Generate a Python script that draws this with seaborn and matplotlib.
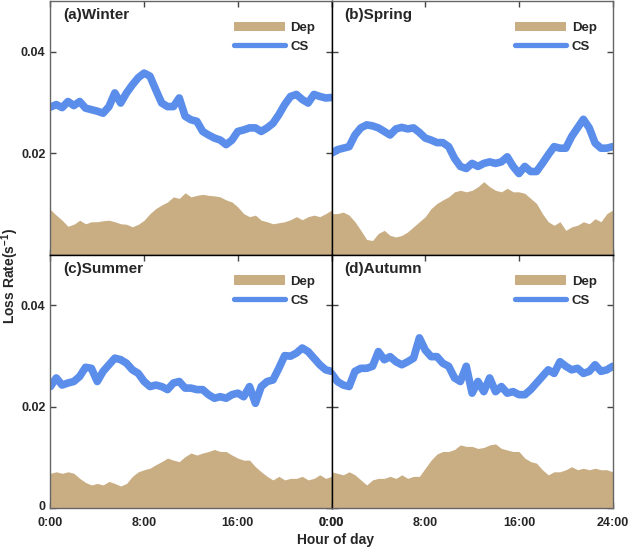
import numpy as np
import pandas as pd
import matplotlib
matplotlib.use("Agg")
import matplotlib.pyplot as plt
import matplotlib.transforms as mtransforms
import seaborn as sns
from matplotlib.patches import Patch
from matplotlib.lines import Line2D

sns.set_style("ticks")
plt.rcParams['font.family'] = ['Liberation Sans', 'DejaVu Sans']
plt.rcParams['font.weight'] = 'bold'
plt.rcParams['mathtext.fontset'] = 'custom'
plt.rcParams['mathtext.bf'] = 'Liberation Sans:bold'
plt.rcParams['mathtext.rm'] = 'Liberation Sans:bold'
plt.rcParams['mathtext.default'] = 'bf'

# half-hourly values, 0:00 .. 24:00
hours = np.arange(0, 24.5, 0.5)

winter_cs = [0.0291, 0.0296, 0.0290, 0.0302, 0.0294, 0.0302, 0.0289, 0.0286, 0.0283, 0.0279,
             0.0292, 0.0319, 0.0299, 0.0319, 0.0335, 0.0349, 0.0358, 0.0352, 0.0325, 0.0299,
             0.0292, 0.0292, 0.0309, 0.0273, 0.0266, 0.0263, 0.0243, 0.0236, 0.0230, 0.0226,
             0.0217, 0.0226, 0.0243, 0.0246, 0.0250, 0.0250, 0.0243, 0.0250, 0.0259, 0.0276,
             0.0296, 0.0312, 0.0316, 0.0306, 0.0299, 0.0316, 0.0312, 0.0309, 0.0310]
winter_dep = [0.0089, 0.0078, 0.0068, 0.0056, 0.0060, 0.0068, 0.0061, 0.0065, 0.0065, 0.0067,
              0.0068, 0.0065, 0.0061, 0.0060, 0.0055, 0.0060, 0.0068, 0.0081, 0.0091, 0.0098,
              0.0104, 0.0114, 0.0111, 0.0122, 0.0114, 0.0117, 0.0119, 0.0117, 0.0116, 0.0114,
              0.0108, 0.0104, 0.0094, 0.0081, 0.0075, 0.0078, 0.0068, 0.0065, 0.0061, 0.0063,
              0.0065, 0.0069, 0.0075, 0.0069, 0.0075, 0.0078, 0.0075, 0.0081, 0.0088]

spring_cs = [0.0200, 0.0207, 0.0210, 0.0213, 0.0236, 0.0250, 0.0256, 0.0254, 0.0250, 0.0243,
             0.0236, 0.0248, 0.0251, 0.0248, 0.0250, 0.0241, 0.0230, 0.0226, 0.0221, 0.0221,
             0.0213, 0.0190, 0.0174, 0.0170, 0.0180, 0.0174, 0.0180, 0.0183, 0.0180, 0.0183,
             0.0193, 0.0174, 0.0160, 0.0174, 0.0164, 0.0164, 0.0180, 0.0197, 0.0213, 0.0210,
             0.0210, 0.0233, 0.0250, 0.0267, 0.0250, 0.0220, 0.0210, 0.0210, 0.0213]
spring_dep = [0.0081, 0.0081, 0.0084, 0.0078, 0.0065, 0.0048, 0.0030, 0.0028, 0.0042, 0.0048,
              0.0038, 0.0035, 0.0038, 0.0045, 0.0055, 0.0065, 0.0075, 0.0091, 0.0101, 0.0108,
              0.0114, 0.0124, 0.0127, 0.0124, 0.0127, 0.0134, 0.0144, 0.0134, 0.0127, 0.0124,
              0.0131, 0.0124, 0.0124, 0.0121, 0.0111, 0.0101, 0.0081, 0.0065, 0.0058, 0.0065,
              0.0048, 0.0055, 0.0058, 0.0065, 0.0061, 0.0071, 0.0065, 0.0081, 0.0088]

summer_cs = [0.0240, 0.0257, 0.0243, 0.0247, 0.0250, 0.0260, 0.0278, 0.0276, 0.0250, 0.0270,
             0.0283, 0.0296, 0.0293, 0.0286, 0.0273, 0.0266, 0.0250, 0.0240, 0.0243, 0.0240,
             0.0234, 0.0247, 0.0250, 0.0237, 0.0237, 0.0234, 0.0234, 0.0224, 0.0217, 0.0220,
             0.0217, 0.0224, 0.0227, 0.0220, 0.0240, 0.0207, 0.0240, 0.0250, 0.0253, 0.0276,
             0.0301, 0.0300, 0.0306, 0.0316, 0.0309, 0.0296, 0.0283, 0.0273, 0.0270]
summer_dep = [0.0069, 0.0072, 0.0069, 0.0072, 0.0069, 0.0059, 0.0051, 0.0046, 0.0049, 0.0046,
              0.0053, 0.0049, 0.0044, 0.0049, 0.0063, 0.0072, 0.0076, 0.0079, 0.0086, 0.0092,
              0.0099, 0.0095, 0.0092, 0.0102, 0.0109, 0.0105, 0.0109, 0.0112, 0.0116, 0.0112,
              0.0112, 0.0105, 0.0099, 0.0095, 0.0095, 0.0082, 0.0072, 0.0063, 0.0056, 0.0063,
              0.0056, 0.0059, 0.0059, 0.0063, 0.0056, 0.0059, 0.0066, 0.0059, 0.0063]

autumn_cs = [0.0266, 0.0250, 0.0243, 0.0240, 0.0270, 0.0276, 0.0276, 0.0280, 0.0309, 0.0293,
             0.0299, 0.0289, 0.0283, 0.0289, 0.0296, 0.0336, 0.0312, 0.0299, 0.0299, 0.0286,
             0.0280, 0.0257, 0.0250, 0.0280, 0.0227, 0.0250, 0.0230, 0.0257, 0.0230, 0.0240,
             0.0227, 0.0230, 0.0224, 0.0224, 0.0234, 0.0247, 0.0260, 0.0273, 0.0266, 0.0289,
             0.0280, 0.0273, 0.0276, 0.0266, 0.0270, 0.0283, 0.0270, 0.0273, 0.0280]
autumn_dep = [0.0072, 0.0069, 0.0066, 0.0072, 0.0066, 0.0056, 0.0046, 0.0056, 0.0059, 0.0059,
              0.0063, 0.0059, 0.0066, 0.0059, 0.0063, 0.0063, 0.0079, 0.0095, 0.0107, 0.0112,
              0.0112, 0.0116, 0.0125, 0.0122, 0.0122, 0.0118, 0.0120, 0.0125, 0.0127, 0.0118,
              0.0115, 0.0112, 0.0112, 0.0099, 0.0092, 0.0089, 0.0076, 0.0066, 0.0072, 0.0072,
              0.0076, 0.0082, 0.0076, 0.0079, 0.0076, 0.0079, 0.0076, 0.0076, 0.0072]

seasons = ["(a)Winter", "(b)Spring", "(c)Summer", "(d)Autumn"]
cs_all = [winter_cs, spring_cs, summer_cs, autumn_cs]
dep_all = [winter_dep, spring_dep, summer_dep, autumn_dep]

dep_color = "#C9AE84"
cs_color = "#5B8DEB"

fig, axes = plt.subplots(2, 2, figsize=(6.3, 5.51), dpi=100)
fig.subplots_adjust(left=0.080, right=0.9725, top=0.998, bottom=0.0775, hspace=0, wspace=0)

for i, ax in enumerate(axes.flat):
    df = pd.DataFrame({"hour": hours, "CS": cs_all[i], "Dep": dep_all[i]})
    ax.fill_between(df["hour"], 0, df["Dep"], color=dep_color, linewidth=0)
    sns.lineplot(data=df, x="hour", y="CS", ax=ax, color=cs_color, linewidth=5.5,
                 solid_capstyle="round", solid_joinstyle="round")
    ax.text(0.045, 0.945, seasons[i], transform=ax.transAxes, fontsize=11,
            fontweight="bold", va="center", ha="left")
    handles = [Patch(facecolor=dep_color, edgecolor="none"),
               Line2D([], [], color=cs_color, linewidth=3.8)]
    ax.legend(handles, ["Dep", "CS"], loc="upper right", bbox_to_anchor=(0.985, 0.965),
              frameon=False, handlelength=3.9, handletextpad=0.4, labelspacing=0.5,
              prop={"size": 9.5, "weight": "bold"})
    ax.set_xlim(0, 24)
    ax.set_ylim(0, 0.05)
    ax.set_xlabel("")
    ax.set_ylabel("")
    ax.set_xticks([0, 8, 16, 24])
    ax.set_yticks([0, 0.02, 0.04])
    ax.tick_params(direction="in", length=4, width=1, top=True, right=True,
                   labelsize=9, color="#444444")
    ax.tick_params(axis="x", pad=6)
    for side, sp in ax.spines.items():
        sp.set_color("#666666")
        sp.set_linewidth(1.0)

# inner dividers drawn black
for ax, sides in [(axes[0, 0], ["right", "bottom"]), (axes[0, 1], ["left", "bottom"]),
                  (axes[1, 0], ["top", "right"]), (axes[1, 1], ["top", "left"])]:
    for s in sides:
        ax.spines[s].set_color("black")

for ax in axes[0, :]:
    ax.tick_params(labelbottom=False)
for ax in axes[:, 1]:
    ax.tick_params(labelleft=False)

axes[1, 0].set_xticklabels(["0:00", "8:00", "16:00", "0:00"], fontweight="bold")
axes[1, 1].set_xticklabels(["0:00", "8:00", "16:00", "24:00"], fontweight="bold")
axes[0, 0].set_yticklabels(["", "0.02", "0.04"], fontweight="bold")
axes[1, 0].set_yticklabels(["0", "0.02", "0.04"], fontweight="bold")
# nudge the zero label up a little so it clears the 0:00 label
zero_lbl = axes[1, 0].get_yticklabels()[0]
zero_lbl.set_transform(zero_lbl.get_transform() +
                       mtransforms.ScaledTranslation(0, 2 / 72, fig.dpi_scale_trans))

fig.text(0.016, 0.5, r"Loss Rate(s$^{-1}$)", rotation=90, va="center", ha="center",
         fontsize=10, fontweight="bold")
fig.text(0.532, 0.02, "Hour of day", va="center", ha="center", fontsize=10, fontweight="bold")

fig.savefig("out.png", dpi=100)
